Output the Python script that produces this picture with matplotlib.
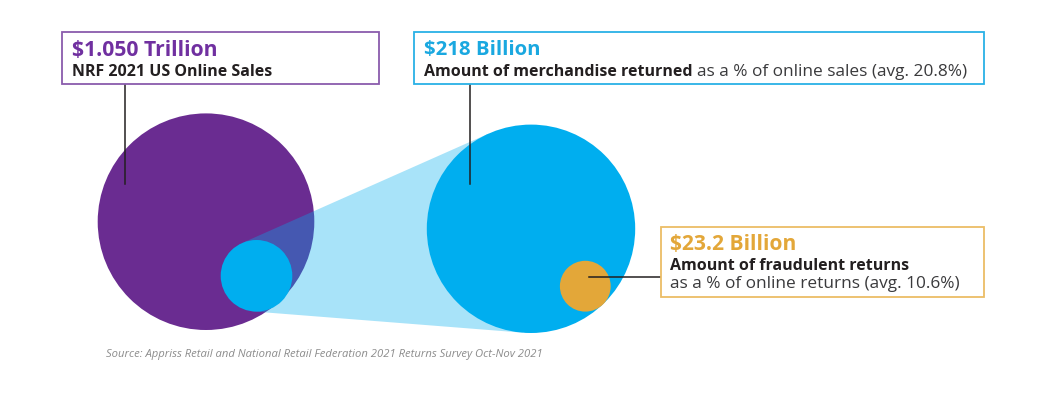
import numpy as np
import matplotlib.pyplot as plt
from matplotlib.patches import Circle, Polygon, Rectangle

# =========================
# DATA
# =========================
amounts = ["$1.050 Trillion", "$218 Billion", "$23.2 Billion"]
bold_labels = ["NRF 2021 US Online Sales", "Amount of merchandise returned", "Amount of fraudulent returns"]
plain_labels = ["", "as a % of online sales (avg. 20.8%)", "as a % of online returns (avg. 10.6%)"]
source = "Source: Appriss Retail and National Retail Federation 2021 Returns Survey Oct-Nov 2021"

# =========================
# LAYOUT (pixel coords, y down)
# =========================
W, H = 1045, 397
PURPLE = "#6a2c91"
BLUE = "#00aeef"
ORANGE = "#e3a739"
DARK = "#231f20"
FONT = "Open Sans"

big_purple = ((206, 221.7), 108.3)
small_blue = ((256.5, 275.8), 35.8)
big_blue = ((531, 228.8), 104.2)
orange_dot = ((585.3, 286.2), 25.4)

fig = plt.figure(figsize=(W / 100, H / 100), dpi=100)
ax = fig.add_axes([0, 0, 1, 1])
ax.set_xlim(0, W)
ax.set_ylim(H, 0)
ax.axis("off")


def tangent_hull(c1, r1, c2, r2):
    # outer tangent points between two circles
    (x1, y1), (x2, y2) = c1, c2
    d = np.hypot(x2 - x1, y2 - y1)
    base = np.arctan2(y2 - y1, x2 - x1)
    th = np.arccos((r1 - r2) / d)
    pts = []
    for a in (base - th, base + th):
        pts.append((x1 + r1 * np.cos(a), y1 + r1 * np.sin(a)))
        pts.append((x2 + r2 * np.cos(a), y2 + r2 * np.sin(a)))
    return [pts[0], pts[1], pts[3], pts[2]]


ax.add_patch(Circle(*big_purple, color=PURPLE, lw=0, zorder=1))
cone = tangent_hull(*small_blue, *big_blue)
ax.add_patch(Polygon(cone, closed=True, color=BLUE, alpha=0.34, lw=0, zorder=2))
ax.add_patch(Circle(*small_blue, color=BLUE, lw=0, zorder=3))
ax.add_patch(Circle(*big_blue, color=BLUE, lw=0, zorder=3))
ax.add_patch(Circle(*orange_dot, color=ORANGE, lw=0, zorder=4))

# leader lines
ax.plot([125, 125], [84, 184], color=DARK, lw=1.1, zorder=5)
ax.plot([470, 470], [84, 184], color=DARK, lw=1.1, zorder=5)
ax.plot([589, 661], [276.7, 276.7], color=DARK, lw=1.1, zorder=5)

# boxes: (x0, y0, x1, y1), edge colour, headline colour, headline size
boxes = [
    ((62.3, 32.3, 379, 84), "#8a5cad", "#7030a0", 15.2),
    ((414.3, 32.3, 984.3, 84), "#29b1e6", "#1aa8e0", 14.7),
    ((660.7, 227.3, 984, 297.3), "#ecbd66", "#e3a739", 15.1),
]
text_pos = [
    (72.5, 55.5, 76.5, None),
    (424.5, 55.5, 75.5, None),
    (670.5, 249.5, 270.5, 288.5),
]
BOLD_SIZE = 11.5
PLAIN_SIZE = 12.4

fig.canvas.draw()
rend = fig.canvas.get_renderer()
inv = ax.transData.inverted()

for i, ((x0, y0, x1, y1), ec, hc, hs) in enumerate(boxes):
    ax.add_patch(Rectangle((x0, y0), x1 - x0, y1 - y0, fill=True, fc="white",
                           ec=ec, lw=1.3, zorder=6))
    tx, hy, by, py = text_pos[i]
    ax.text(tx, hy, amounts[i], color=hc, fontsize=hs, fontweight="bold",
            family=FONT, va="baseline", ha="left", zorder=7)
    t = ax.text(tx, by, bold_labels[i], color=DARK, fontsize=BOLD_SIZE, fontweight="bold",
                family=FONT, va="baseline", ha="left", zorder=7)
    if plain_labels[i]:
        if py is None:
            # regular text continues right after the bold part
            bb = t.get_window_extent(renderer=rend)
            xe = inv.transform((bb.x1, bb.y0))[0] + 4
            ax.text(xe, by, plain_labels[i], color="#3a3a3c", fontsize=PLAIN_SIZE,
                    family=FONT, va="baseline", ha="left", zorder=7)
        else:
            ax.text(tx, py, plain_labels[i], color="#3a3a3c", fontsize=PLAIN_SIZE,
                    family=FONT, va="baseline", ha="left", zorder=7)

ax.text(106, 357.5, source, color="#8c8c8c", fontsize=8.15, style="italic",
        family=FONT, va="baseline", ha="left")

fig.savefig("out.png", dpi=100)
